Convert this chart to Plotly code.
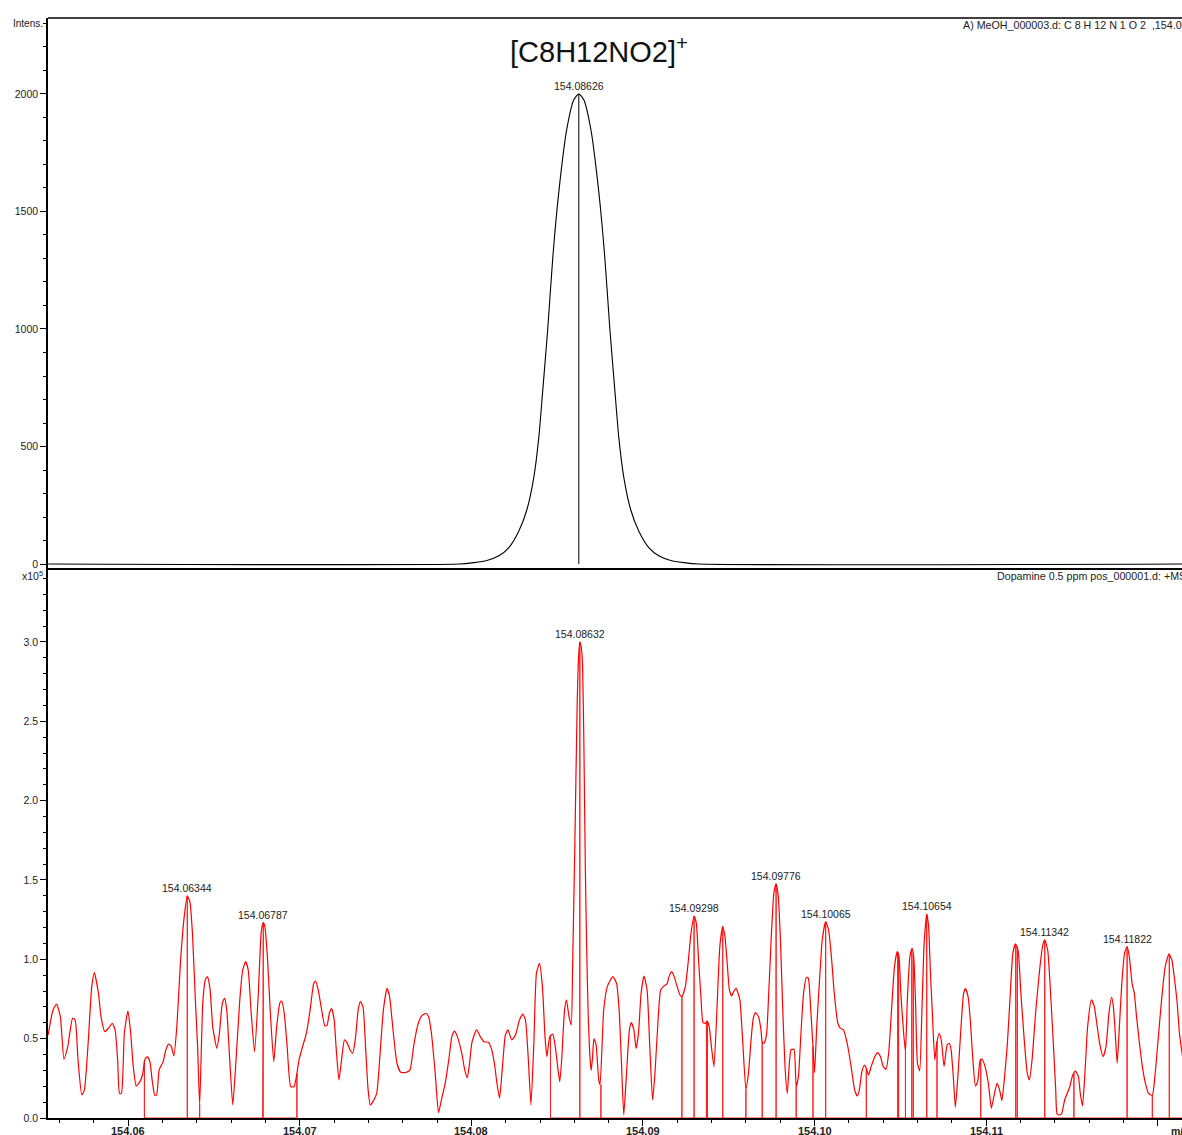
import plotly.graph_objects as go

# ---------------- data ----------------
# Simulated isotope profile for [C8H12NO2]+ (upper trace)
sim_mz = [154.05533, 154.07927, 154.08014, 154.08090, 154.08160, 154.08218, 154.08276,
          154.08323, 154.08364, 154.08393, 154.08416, 154.08445, 154.08474, 154.08509,
          154.08556, 154.08597, 154.08626, 154.08655, 154.08696, 154.08743, 154.08778,
          154.08807, 154.08836, 154.08859, 154.08888, 154.08929, 154.08976, 154.09034,
          154.09092, 154.09162, 154.09238, 154.09325, 154.12150]
sim_int = [0, 0, 6, 15, 35, 70, 140, 230, 370, 540, 740, 1000, 1300, 1580, 1850, 1975,
           2000, 1975, 1850, 1580, 1300, 1000, 740, 540, 370, 230, 140, 70, 35, 15, 6, 0, 0]
sim_peak_mz = 154.08626
sim_peak_int = 2000

# Measured profile spectrum, Dopamine 0.5 ppm (lower trace), intensity in units of 1e5
meas_mz = [
    154.05533, 154.05561, 154.05582, 154.05604, 154.05625, 154.05647, 154.05675, 154.05690,
    154.05707, 154.05729, 154.05744, 154.05766, 154.05787, 154.05802, 154.05826, 154.05841,
    154.05863, 154.05884, 154.05906, 154.05923, 154.05938, 154.05949, 154.05960, 154.05977,
    154.05998, 154.06014, 154.06029, 154.06046, 154.06068, 154.06085, 154.06096, 154.06111,
    154.06126, 154.06139, 154.06154, 154.06165, 154.06180, 154.06203, 154.06219, 154.06234,
    154.06251, 154.06266, 154.06283, 154.06305, 154.06326, 154.06344, 154.06359, 154.06374,
    154.06391, 154.06404, 154.06416, 154.06434, 154.06449, 154.06462, 154.06477, 154.06492,
    154.06516, 154.06531, 154.06548, 154.06561, 154.06574, 154.06589, 154.06609, 154.06628,
    154.06650, 154.06667, 154.06684, 154.06699, 154.06715, 154.06736, 154.06758, 154.06775,
    154.06787, 154.06796, 154.06812, 154.06827, 154.06848, 154.06865, 154.06883, 154.06894,
    154.06909, 154.06926, 154.06947, 154.06965, 154.06980, 154.06995, 154.07016, 154.07038,
    154.07060, 154.07081, 154.07092, 154.07107, 154.07124, 154.07146, 154.07159, 154.07172,
    154.07185, 154.07200, 154.07211, 154.07228, 154.07243, 154.07260, 154.07275, 154.07293,
    154.07308, 154.07323, 154.07340, 154.07353, 154.07368, 154.07383, 154.07398, 154.07411,
    154.07426, 154.07448, 154.07465, 154.07487, 154.07508, 154.07523, 154.07545, 154.07566,
    154.07588, 154.07620, 154.07642, 154.07663, 154.07685, 154.07707, 154.07735, 154.07750,
    154.07767, 154.07789, 154.07808, 154.07825, 154.07847, 154.07868, 154.07886, 154.07901,
    154.07918, 154.07944, 154.07961, 154.07976, 154.07987, 154.08004, 154.08030, 154.08052,
    154.08073, 154.08099, 154.08116, 154.08134, 154.08149, 154.08164, 154.08181, 154.08198,
    154.08213, 154.08235, 154.08257, 154.08280, 154.08300, 154.08315, 154.08332, 154.08347,
    154.08364, 154.08379, 154.08397, 154.08414, 154.08429, 154.08440, 154.08457, 154.08474,
    154.08489, 154.08505, 154.08515, 154.08526, 154.08543, 154.08554, 154.08569, 154.08582,
    154.08590, 154.08604, 154.08617, 154.08626, 154.08632, 154.08640, 154.08648, 154.08656,
    154.08664, 154.08672, 154.08681, 154.08690, 154.08698, 154.08706, 154.08714, 154.08727,
    154.08742, 154.08750, 154.08771, 154.08792, 154.08824, 154.08846, 154.08861, 154.08874,
    154.08888, 154.08903, 154.08921, 154.08932, 154.08947, 154.08960, 154.08974, 154.08989,
    154.09006, 154.09024, 154.09039, 154.09056, 154.09070, 154.09088, 154.09103, 154.09118,
    154.09140, 154.09152, 154.09167, 154.09182, 154.09199, 154.09216, 154.09227, 154.09247,
    154.09263, 154.09280, 154.09298, 154.09311, 154.09324, 154.09339, 154.09350, 154.09365,
    154.09373, 154.09386, 154.09399, 154.09414, 154.09431, 154.09448, 154.09465, 154.09478,
    154.09491, 154.09504, 154.09517, 154.09528, 154.09543, 154.09554, 154.09565, 154.09582,
    154.09600, 154.09615, 154.09630, 154.09643, 154.09656, 154.09673, 154.09688, 154.09695,
    154.09706, 154.09720, 154.09733, 154.09748, 154.09763, 154.09776, 154.09789, 154.09802,
    154.09815, 154.09828, 154.09841, 154.09852, 154.09863, 154.09880, 154.09893, 154.09906,
    154.09921, 154.09936, 154.09953, 154.09964, 154.09978, 154.09991, 154.10000, 154.10013,
    154.10028, 154.10045, 154.10065, 154.10082, 154.10100, 154.10115, 154.10136, 154.10151,
    154.10169, 154.10186, 154.10201, 154.10219, 154.10234, 154.10249, 154.10261, 154.10276,
    154.10291, 154.10302, 154.10315, 154.10330, 154.10352, 154.10367, 154.10384, 154.10401,
    154.10417, 154.10432, 154.10449, 154.10466, 154.10482, 154.10492, 154.10503, 154.10518,
    154.10530, 154.10541, 154.10556, 154.10569, 154.10578, 154.10589, 154.10600, 154.10613,
    154.10626, 154.10639, 154.10654, 154.10665, 154.10675, 154.10686, 154.10701, 154.10714,
    154.10727, 154.10740, 154.10755, 154.10773, 154.10786, 154.10796, 154.10809, 154.10821,
    154.10837, 154.10854, 154.10869, 154.10880, 154.10895, 154.10908, 154.10923, 154.10938,
    154.10951, 154.10966, 154.10977, 154.10994, 154.11010, 154.11020, 154.11031, 154.11049,
    154.11064, 154.11079, 154.11092, 154.11106, 154.11123, 154.11139, 154.11156, 154.11171,
    154.11186, 154.11203, 154.11221, 154.11240, 154.11253, 154.11268, 154.11290, 154.11312,
    154.11329, 154.11342, 154.11359, 154.11376, 154.11393, 154.11406, 154.11414, 154.11430,
    154.11441, 154.11458, 154.11473, 154.11488, 154.11505, 154.11521, 154.11538, 154.11549,
    154.11562, 154.11575, 154.11592, 154.11614, 154.11631, 154.11645, 154.11662, 154.11682,
    154.11699, 154.11716, 154.11732, 154.11742, 154.11753, 154.11764, 154.11775, 154.11790,
    154.11807, 154.11822, 154.11835, 154.11851, 154.11864, 154.11877, 154.11894, 154.11911,
    154.11929, 154.11947, 154.11969, 154.11984, 154.12001, 154.12023, 154.12044, 154.12066,
    154.12083, 154.12099, 154.12114, 154.12127, 154.12150]
meas_int = [
    0.523, 0.681, 0.718, 0.639, 0.370, 0.450, 0.628, 0.618,
    0.366, 0.145, 0.176, 0.471, 0.828, 0.916, 0.786, 0.639,
    0.544, 0.565, 0.597, 0.555, 0.366, 0.155, 0.155, 0.534,
    0.676, 0.534, 0.324, 0.202, 0.229, 0.282, 0.366, 0.387,
    0.355, 0.239, 0.145, 0.145, 0.303, 0.355, 0.429, 0.466,
    0.450, 0.391, 0.576, 0.996, 1.269, 1.400, 1.363, 1.164,
    0.744, 0.450, 0.080, 0.723, 0.870, 0.891, 0.807, 0.576,
    0.439, 0.534, 0.723, 0.754, 0.681, 0.408, 0.082, 0.366,
    0.744, 0.933, 0.985, 0.933, 0.681, 0.418, 0.786, 1.174,
    1.231, 1.206, 0.996, 0.681, 0.355, 0.576, 0.723, 0.739,
    0.660, 0.450, 0.197, 0.197, 0.261, 0.366, 0.450, 0.534,
    0.681, 0.849, 0.863, 0.807, 0.702, 0.580, 0.586, 0.660,
    0.689, 0.618, 0.450, 0.239, 0.366, 0.492, 0.475, 0.429,
    0.408, 0.492, 0.681, 0.733, 0.702, 0.450, 0.176, 0.082,
    0.103, 0.155, 0.366, 0.681, 0.817, 0.765, 0.534, 0.345,
    0.288, 0.288, 0.303, 0.450, 0.576, 0.639, 0.660, 0.639,
    0.534, 0.282, 0.034, 0.113, 0.218, 0.366, 0.513, 0.548,
    0.513, 0.408, 0.303, 0.254, 0.324, 0.481, 0.555, 0.513,
    0.481, 0.477, 0.439, 0.345, 0.218, 0.124, 0.324, 0.523,
    0.555, 0.492, 0.523, 0.618, 0.655, 0.618, 0.366, 0.082,
    0.471, 0.912, 0.975, 0.828, 0.513, 0.387, 0.513, 0.529,
    0.450, 0.303, 0.229, 0.366, 0.681, 0.744, 0.639, 0.586,
    0.954, 1.794, 2.634, 2.930, 3.000, 2.970, 2.850, 2.320,
    1.584, 1.059, 0.638, 0.400, 0.300, 0.380, 0.500, 0.460,
    0.240, 0.210, 0.681, 0.828, 0.891, 0.849, 0.681, 0.366,
    0.019, 0.261, 0.555, 0.601, 0.555, 0.439, 0.534, 0.786,
    0.895, 0.807, 0.471, 0.113, 0.282, 0.618, 0.807, 0.828,
    0.845, 0.891, 0.922, 0.891, 0.828, 0.775, 0.765, 0.828,
    0.975, 1.164, 1.273, 1.227, 0.996, 0.744, 0.601, 0.597,
    0.613, 0.576, 0.450, 0.324, 0.681, 1.080, 1.206, 1.143,
    0.975, 0.807, 0.769, 0.796, 0.817, 0.786, 0.744, 0.471,
    0.181, 0.282, 0.492, 0.628, 0.664, 0.639, 0.555, 0.481,
    0.471, 0.523, 0.786, 1.143, 1.416, 1.475, 1.395, 1.101,
    0.681, 0.324, 0.155, 0.324, 0.429, 0.433, 0.197, 0.261,
    0.534, 0.786, 0.887, 0.880, 0.681, 0.450, 0.286, 0.576,
    0.849, 1.122, 1.237, 1.185, 0.996, 0.786, 0.597, 0.565,
    0.555, 0.492, 0.408, 0.282, 0.176, 0.139, 0.176, 0.292,
    0.334, 0.313, 0.271, 0.324, 0.387, 0.412, 0.387, 0.324,
    0.307, 0.408, 0.681, 0.954, 1.048, 1.017, 0.786, 0.555,
    0.418, 0.744, 1.017, 1.069, 1.017, 0.723, 0.345, 0.298,
    0.681, 1.101, 1.285, 1.206, 0.933, 0.681, 0.366, 0.481,
    0.534, 0.481, 0.324, 0.460, 0.471, 0.429, 0.261, 0.067,
    0.282, 0.576, 0.786, 0.815, 0.765, 0.618, 0.366, 0.202,
    0.229, 0.366, 0.370, 0.324, 0.240, 0.155, 0.061, 0.155,
    0.218, 0.176, 0.109, 0.240, 0.450, 0.744, 1.038, 1.097,
    1.059, 0.786, 0.513, 0.282, 0.240, 0.366, 0.681, 0.933,
    1.080, 1.122, 1.059, 0.786, 0.450, 0.176, 0.025, 0.019,
    0.029, 0.113, 0.155, 0.197, 0.271, 0.296, 0.261, 0.155,
    0.076, 0.261, 0.576, 0.744, 0.702, 0.597, 0.471, 0.387,
    0.450, 0.660, 0.761, 0.702, 0.534, 0.345, 0.534, 0.828,
    1.038, 1.080, 1.017, 0.849, 0.786, 0.639, 0.471, 0.324,
    0.218, 0.155, 0.143, 0.261, 0.471, 0.744, 0.954, 1.034,
    0.996, 0.870, 0.723, 0.534, 0.350]

# Centroid sticks (two peak-list segments)
stick_mz_a = [154.06094, 154.06344, 154.06416, 154.06783, 154.06787, 154.06983]
stick_int_a = [0.36, 1.400, 0.080, 1.20, 1.231, 0.28]
stick_mz_b = [154.08461, 154.08632, 154.08755, 154.09227, 154.09298, 154.09370, 154.09376,
              154.09465, 154.09600, 154.09695, 154.09776, 154.09893, 154.09991, 154.10065,
              154.10302, 154.10485, 154.10490, 154.10530, 154.10567, 154.10576, 154.10654,
              154.10714, 154.10969, 154.11173, 154.11182, 154.11342, 154.11512, 154.11822,
              154.11969, 154.12068]
stick_int_b = [0.52, 3.000, 0.21, 0.765, 1.273, 0.60, 0.61,
               1.206, 0.181, 0.481, 1.475, 0.197, 0.450, 1.237,
               0.313, 1.04, 1.03, 0.418, 1.06, 1.03, 1.285,
               0.481, 0.37, 1.095, 1.08, 1.122, 0.28, 1.080,
               0.143, 1.034]
stick_b_end = 154.1220

# Annotated peaks of the measured spectrum
label_mz = [154.06344, 154.06787, 154.08632, 154.09298, 154.09776,
            154.10065, 154.10654, 154.11342, 154.11822]
label_int = [1.400, 1.231, 3.000, 1.273, 1.475, 1.237, 1.285, 1.122, 1.080]

# m/z axis ticks; the last major tick carries no number (the axis title sits there)
x_tickvals = [154.06, 154.07, 154.08, 154.09, 154.10, 154.11, 154.12]
x_ticktext = ["154.06", "154.07", "154.08", "154.09", "154.10", "154.11", ""]

X_RANGE = [154.05532, 154.12142]
FONT = "Liberation Sans, Arial, Helvetica, sans-serif"
SPLIT = 0.4991      # boundary between the two panels (paper fraction)
XLABEL_Y = -0.0115  # vertical position of the m/z tick numbers (paper fraction)

# ---------------- figure ----------------
fig = go.Figure()

# upper panel: simulated profile + its centroid line
fig.add_trace(go.Scatter(x=sim_mz, y=sim_int, mode="lines", xaxis="x2", yaxis="y2",
                         line=dict(color="black", width=1.1, shape="spline", smoothing=0.6),
                         hoverinfo="skip"))
fig.add_trace(go.Scatter(x=[sim_peak_mz, sim_peak_mz], y=[0, sim_peak_int], mode="lines",
                         xaxis="x2", yaxis="y2", line=dict(color="black", width=1),
                         hoverinfo="skip"))


def stick_path(mzs, ints, end=None):
    xs, ys = [], []
    for m, h in zip(mzs, ints):
        xs += [m, m, m]
        ys += [0, h, 0]
    if end is not None:
        xs.append(end)
        ys.append(0)
    return xs, ys


sx_a, sy_a = stick_path(stick_mz_a, stick_int_a)
sx_b, sy_b = stick_path(stick_mz_b, stick_int_b, stick_b_end)
fig.add_trace(go.Scatter(x=sx_a + [None] + sx_b, y=sy_a + [None] + sy_b, mode="lines",
                         line=dict(color="#ff2020", width=1), connectgaps=False,
                         hoverinfo="skip"))

# lower panel: measured profile
fig.add_trace(go.Scatter(x=meas_mz, y=meas_int, mode="lines",
                         line=dict(color="#ff0000", width=1.2, shape="spline", smoothing=0.5),
                         hoverinfo="skip"))

annotations = []
for m, h in zip(label_mz, label_int):
    annotations.append(dict(x=m, y=h, xref="x", yref="y", text=f"{m:.5f}", showarrow=False,
                            yanchor="bottom", xanchor="center",
                            font=dict(family=FONT, size=10.5, color="#222")))
annotations.append(dict(x=sim_peak_mz, y=sim_peak_int, xref="x2", yref="y2",
                        text=f"{sim_peak_mz:.5f}", showarrow=False, yanchor="bottom",
                        xanchor="center", font=dict(family=FONT, size=10.5, color="#222")))
# bold m/z tick numbers
for v, t in zip(x_tickvals, x_ticktext):
    if t:
        annotations.append(dict(x=v, y=XLABEL_Y, xref="x", yref="paper", text=f"<b>{t}</b>",
                                showarrow=False, xanchor="center", yanchor="middle",
                                borderpad=0,
                                font=dict(family=FONT, size=11, color="#222")))
annotations += [
    dict(x=0.486, y=0.971, xref="paper", yref="paper", text="[C8H12NO2]<sup>+</sup>",
         showarrow=False, xanchor="center", yanchor="middle",
         font=dict(family=FONT, size=29, color="#111")),
    dict(x=0.805, y=0.9936, xref="paper", yref="paper", xanchor="left", yanchor="middle",
         text="A) MeOH_000003.d: C 8 H 12 N 1 O 2  ,154.09", showarrow=False,
         font=dict(family=FONT, size=10.7, color="#222")),
    dict(x=0.835, y=0.4927, xref="paper", yref="paper", xanchor="left", yanchor="middle",
         text="Dopamine 0.5 ppm pos_000001.d: +MS", showarrow=False,
         font=dict(family=FONT, size=10.7, color="#222")),
    dict(x=0, y=2300, xref="paper", yref="y2", xanchor="right", yanchor="middle", xshift=-3,
         text="Intens.", showarrow=False, font=dict(family=FONT, size=10, color="#222")),
    dict(x=0, y=3.42, xref="paper", yref="y", xanchor="right", yanchor="middle", xshift=-3,
         text="x10<sup>5</sup>", showarrow=False, font=dict(family=FONT, size=10.5, color="#222")),
    dict(x=0.9894, y=XLABEL_Y, xref="paper", yref="paper", xanchor="left", yanchor="middle",
         borderpad=0, text="<b>m/z</b>", showarrow=False,
         font=dict(family=FONT, size=10.5, color="#222")),
]

axis_common = dict(showgrid=False, zeroline=False, showline=True, linecolor="black",
                   linewidth=1.5, ticks="outside", tickcolor="black", tickwidth=1,
                   ticklen=6, automargin=False)

fig.update_layout(
    width=1182, height=1135,
    margin=dict(l=48, r=0, t=18, b=17, autoexpand=False),
    plot_bgcolor="white", paper_bgcolor="white",
    showlegend=False,
    font=dict(family=FONT, size=10.5, color="#222"),
    xaxis=dict(axis_common, domain=[0, 1], anchor="y", range=X_RANGE,
               tickmode="array", tickvals=x_tickvals, showticklabels=False,
               minor=dict(dtick=0.002, tick0=154.06, ticks="outside", ticklen=3,
                          tickcolor="black", showgrid=False)),
    yaxis=dict(axis_common, domain=[0, SPLIT], anchor="x", range=[0, 3.46],
               tick0=0, dtick=0.5, tickformat=".1f",
               tickfont=dict(family=FONT, size=10.5, color="#222"),
               minor=dict(dtick=0.1, tick0=0, ticks="outside", ticklen=3,
                          tickcolor="black", showgrid=False)),
    xaxis2=dict(domain=[0, 1], anchor="y2", range=X_RANGE, matches="x",
                showticklabels=False, ticks="", showline=False, showgrid=False,
                zeroline=False, automargin=False),
    yaxis2=dict(axis_common, domain=[SPLIT, 1], anchor="x2", range=[-21, 2323],
                tickvals=[0, 500, 1000, 1500, 2000],
                tickfont=dict(family=FONT, size=10.5, color="#222"),
                minor=dict(dtick=100, tick0=0, ticks="outside", ticklen=3,
                           tickcolor="black", showgrid=False)),
    annotations=annotations,
    shapes=[
        dict(type="line", xref="paper", yref="paper", x0=0, x1=1, y0=1, y1=1,
             line=dict(color="black", width=1.5)),
        dict(type="line", xref="paper", yref="paper", x0=0, x1=1, y0=SPLIT, y1=SPLIT,
             line=dict(color="black", width=2.2)),
    ],
)

fig.write_html("out.html")
